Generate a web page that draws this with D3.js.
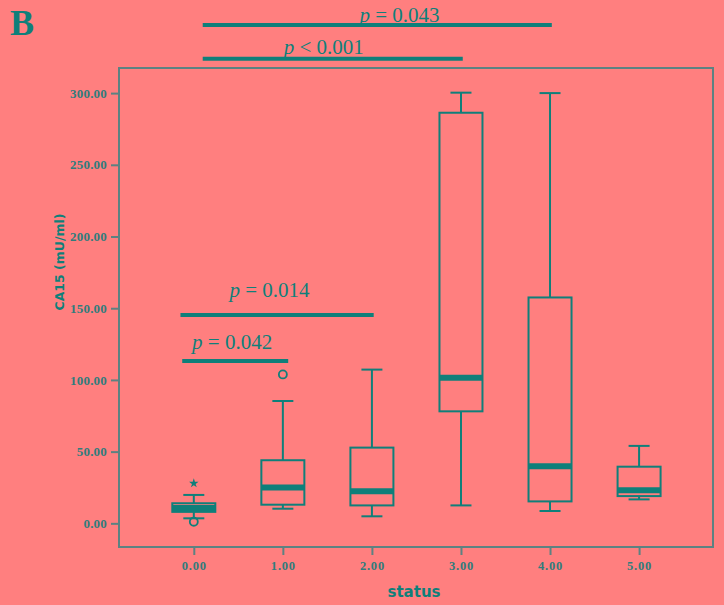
<!DOCTYPE html>
<meta charset="utf-8">
<head>
<script src="https://d3js.org/d3.v7.min.js"></script>
<style>
  body { margin: 0; background: #ff7f7f; }
  svg { display: block; }
</style>
</head>
<body>
<div id="box_graph"></div>

<script>
// data
var groups = [0, 1, 2, 3, 4, 5];
var whiskerLow  = [3.5, 10.2, 4.9, 12.5, 8.6, 16.7];
var q1          = [8.0, 13.0, 12.5, 78.1, 15.3, 19.0];
var median      = [10.7, 25.0, 22.3, 101.6, 39.8, 23.0];
var q3          = [14.0, 44.0, 52.8, 286.3, 157.5, 39.5];
var whiskerHigh = [19.8, 85.3, 107.2, 300.3, 300.0, 54.0];
var outliers = [
  {group: 0, value: 1.1, kind: "circle"},
  {group: 0, value: 27.9, kind: "star"},
  {group: 1, value: 103.8, kind: "circle"}
];
var yTicks = [0, 50, 100, 150, 200, 250, 300];

// significance bars: from/to in status units, level in CA15 units
var comparisons = [
  {label: "0.043", op: "=", from: 0.10, to: 4.02, level: 347.4, labelAt: 2.31, labelLevel: 349.3},
  {label: "0.001", op: "<", from: 0.10, to: 3.02, level: 324.0, labelAt: 1.46, labelLevel: 327.4},
  {label: "0.014", op: "=", from: -0.15, to: 2.02, level: 145.3, labelAt: 0.85, labelLevel: 158.1},
  {label: "0.042", op: "=", from: -0.13, to: 1.06, level: 113.2, labelAt: 0.43, labelLevel: 121.6}
];

var W = 724, H = 605;
var teal = "#0f7f7a", frameCol = "#5c8282", labelCol = "#307c7c";

var svg = d3.select("#box_graph").append("svg")
  .attr("width", W).attr("height", H);

svg.append("rect").attr("width", W).attr("height", H).attr("fill", "#ff7f7f");

var x = d3.scaleLinear().domain([-0.84, 5.83]).range([119, 713]);
var y = d3.scaleLinear().domain([-16.5, 317.5]).range([547, 68]);

// frame
svg.append("rect")
  .attr("x", x.range()[0]).attr("y", y.range()[1])
  .attr("width", x.range()[1] - x.range()[0])
  .attr("height", y.range()[0] - y.range()[1])
  .attr("fill", "none").attr("stroke", frameCol).attr("stroke-width", 2);

// Y axis
var yAxis = svg.append("g")
  .attr("transform", "translate(" + x.range()[0] + ",0)")
  .call(d3.axisLeft(y).tickValues(yTicks).tickFormat(d3.format(".2f")).tickSize(8).tickPadding(4));
yAxis.select(".domain").remove();
yAxis.selectAll("line").attr("stroke", frameCol).attr("stroke-width", 2);
yAxis.selectAll("text").attr("fill", labelCol)
  .style("font-family", "Liberation Serif").style("font-weight", "bold")
  .style("font-size", "13px").style("letter-spacing", "0.2px");

// X axis
var xAxis = svg.append("g")
  .attr("transform", "translate(0," + y.range()[0] + ")")
  .call(d3.axisBottom(x).tickValues(groups).tickFormat(d3.format(".2f")).tickSize(8).tickPadding(6));
xAxis.select(".domain").remove();
xAxis.selectAll("line").attr("stroke", frameCol).attr("stroke-width", 2);
xAxis.selectAll("text").attr("fill", labelCol)
  .style("font-family", "Liberation Serif").style("font-weight", "bold")
  .style("font-size", "12.5px").style("letter-spacing", "0.8px");

// axis titles
svg.append("text")
  .attr("x", 414).attr("y", 597)
  .attr("text-anchor", "middle")
  .attr("fill", teal)
  .style("font-family", "DejaVu Sans").style("font-weight", "bold").style("font-size", "15px")
  .text("status");

svg.append("text")
  .attr("transform", "translate(64,262) rotate(-90)")
  .attr("text-anchor", "middle")
  .attr("fill", teal)
  .style("font-family", "DejaVu Sans").style("font-weight", "bold").style("font-size", "12.5px")
  .text("CA15 (mU/ml)");

// panel letter
svg.append("text")
  .attr("x", 10).attr("y", 35)
  .attr("fill", teal)
  .style("font-family", "Liberation Serif").style("font-weight", "bold").style("font-size", "36px")
  .text("B");

// boxes
var boxW = 43, capW = 21;
var g = svg.append("g");
groups.forEach(function(d, i) {
  var cx = x(d);
  // whiskers
  g.append("line").attr("x1", cx).attr("x2", cx)
    .attr("y1", y(whiskerHigh[i])).attr("y2", y(q3[i]))
    .attr("stroke", teal).attr("stroke-width", 2);
  g.append("line").attr("x1", cx).attr("x2", cx)
    .attr("y1", y(q1[i])).attr("y2", y(whiskerLow[i]))
    .attr("stroke", teal).attr("stroke-width", 2);
  [whiskerHigh[i], whiskerLow[i]].forEach(function(v) {
    g.append("line").attr("x1", cx - capW / 2).attr("x2", cx + capW / 2)
      .attr("y1", y(v)).attr("y2", y(v))
      .attr("stroke", teal).attr("stroke-width", 2);
  });
  g.append("rect")
    .attr("x", cx - boxW / 2).attr("y", y(q3[i]))
    .attr("width", boxW).attr("height", y(q1[i]) - y(q3[i]))
    .attr("fill", "none").attr("stroke", teal).attr("stroke-width", 2);
  g.append("line").attr("x1", cx - boxW / 2).attr("x2", cx + boxW / 2)
    .attr("y1", y(median[i])).attr("y2", y(median[i]))
    .attr("stroke", teal).attr("stroke-width", 6);
});

// outliers
outliers.forEach(function(o) {
  if (o.kind == "circle") {
    g.append("circle").attr("cx", x(o.group)).attr("cy", y(o.value)).attr("r", 4)
      .attr("fill", "none").attr("stroke", teal).attr("stroke-width", 1.8);
  } else {
    g.append("path")
      .attr("d", d3.symbol().type(d3.symbolStar).size(28)())
      .attr("transform", "translate(" + x(o.group) + "," + y(o.value) + ")")
      .attr("fill", teal);
  }
});

// significance bars
comparisons.forEach(function(c) {
  svg.append("line")
    .attr("x1", x(c.from)).attr("x2", x(c.to))
    .attr("y1", y(c.level)).attr("y2", y(c.level))
    .attr("stroke", teal).attr("stroke-width", 4);
  var t = svg.append("text")
    .attr("x", x(c.labelAt)).attr("y", y(c.labelLevel))
    .attr("text-anchor", "middle")
    .attr("fill", teal)
    .style("font-family", "Liberation Serif").style("font-size", "21px");
  t.append("tspan").style("font-style", "italic").text("p");
  t.append("tspan").text(" " + c.op + " " + c.label);
});
</script>
</body>
